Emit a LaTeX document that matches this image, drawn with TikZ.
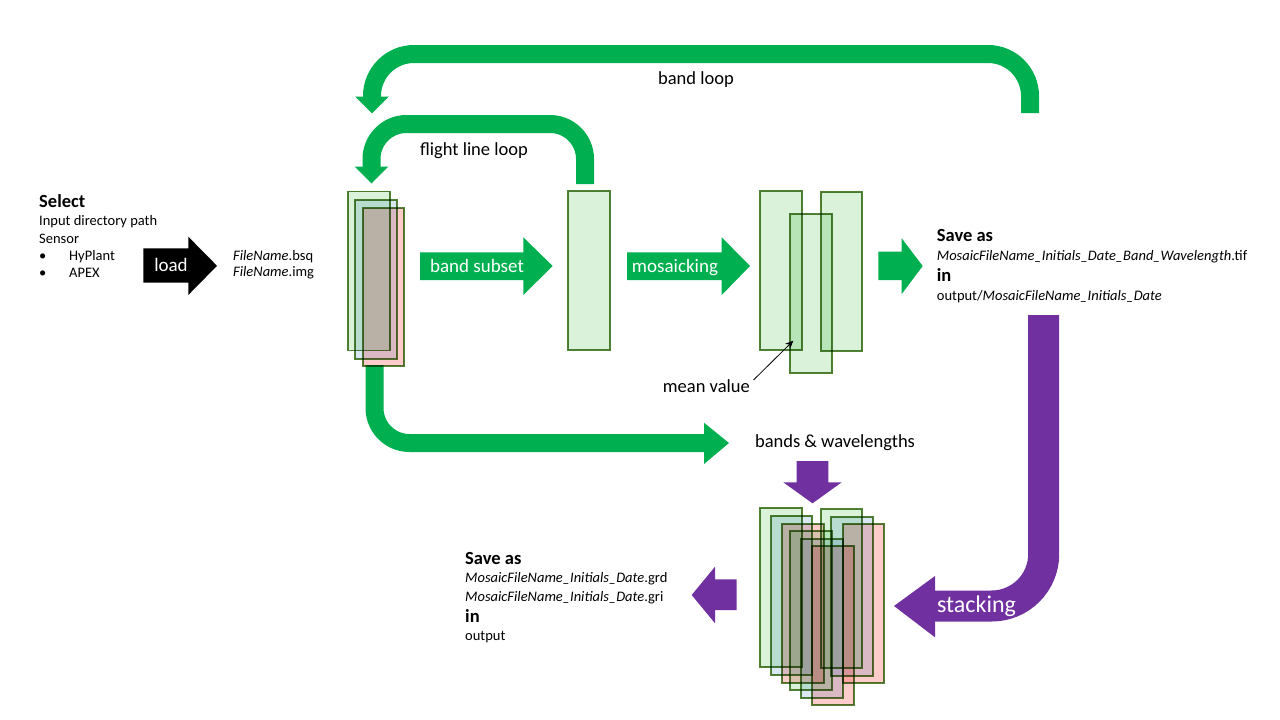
\documentclass[tikz,border=0pt]{standalone}
\usepackage{fontspec}
\setmainfont{Carlito}
\usetikzlibrary{arrows.meta}
\definecolor{ggreen}{RGB}{0,176,80}
\definecolor{gpurple}{RGB}{112,48,160}
\definecolor{gborder}{RGB}{84,130,53}
\definecolor{gfill}{RGB}{217,242,217}
\definecolor{bfill}{RGB}{218,232,245}
\definecolor{pfill}{RGB}{255,204,204}
\tikzset{
  txt/.style={inner sep=0pt, anchor=base west, yshift=-4.8pt, font=\fontsize{14.5}{16}\selectfont},
  big/.style={inner sep=0pt, anchor=base, yshift=-6.1pt, font=\fontsize{18.5}{20}\selectfont},
  boldtxt/.style={inner sep=0pt, anchor=base west, yshift=-6.1pt, font=\fontsize{18.5}{20}\selectfont\bfseries},
  wtxt/.style={inner sep=0pt, anchor=base, yshift=-6.3pt, text=white, font=\fontsize{19}{21}\selectfont},
  brect/.style={draw=gborder, line width=1.3pt, inner sep=0pt, anchor=north west, minimum width=42pt, minimum height=159pt},
  gbox/.style={brect, fill=gfill},
  bbox/.style={brect, fill=bfill},
  pbox/.style={brect, fill=pfill},
  gloop/.style={draw=ggreen, line width=18pt, rounded corners=35pt},
}
\begin{document}
\begin{tikzpicture}[x=1pt,y=-1pt]
\useasboundingbox (0,0) rectangle (1280,720);

% ---------- left text ----------
\node[boldtxt] (sel) at (39,201) {Select};
\node[txt] (idp) at (39,221) {Input directory path};
\node[txt] (sen) at (39,239) {Sensor};
\node[txt] (bu1) at (39,256) {\textbullet};
\node[txt] (hyp) at (69,256) {HyPlant};
\node[txt] (bu2) at (39,273) {\textbullet};
\node[txt] (apx) at (69,273) {APEX};

% ---------- load arrow ----------
\fill[black] (143.3,248.3) -- (188.3,248.3) -- (188.3,236.7) -- (217,265.8) -- (188.3,295) -- (188.3,282.5) -- (143.3,282.5) -- cycle;
\node[wtxt] (load) at (171,265.5) {load};

\node[txt] (fn1) at (233,256) {\textit{FileName}.bsq};
\node[txt] (fn2) at (233,272) {\textit{FileName}.img};

% ---------- loops ----------
\coordinate (blS) at (1030,113);
\coordinate (blE) at (372,97);
\draw[gloop, rounded corners=42pt] (blS) -- (1030,54) -- (372,54) -- (blE);
\fill[ggreen] (355,96.5) -- (389,96.5) -- (372,113.3) -- cycle;
\node[big] (bandloop) at (696,78) {band loop};

\coordinate (flS) at (585,184);
\coordinate (flE) at (371.5,167);
\draw[gloop] (flS) -- (585,124) -- (371.5,124) -- (flE);
\fill[ggreen] (354.6,166.5) -- (388.4,166.5) -- (371.5,183.5) -- cycle;
\node[big] (flightloop) at (474,149) {flight line loop};

% ---------- bottom green arrow ----------
\coordinate (bgS) at (374.5,365);
\coordinate (bgE) at (704.5,443);
\draw[gloop] (bgS) -- (374.5,443) -- (bgE);
\fill[ggreen] (704,422.7) -- (729,443) -- (704,464) -- cycle;
\node[big] (bw) at (835,441) {bands \& wavelengths};

% ---------- band subset / mosaicking arrows ----------
\fill[ggreen] (420,252.3) -- (523.3,252.3) -- (523.3,237.3) -- (552.7,266) -- (523.3,295) -- (523.3,280) -- (420,280) -- cycle;
\node[wtxt] (bs) at (477,266) {band subset};
\fill[ggreen] (627,252.3) -- (721.7,252.3) -- (721.7,237.3) -- (750,266) -- (721.7,295) -- (721.7,280) -- (627,280) -- cycle;
\node[wtxt] (mos) at (675,266) {mosaicking};
\fill[ggreen] (878.3,251.7) -- (901.7,251.7) -- (901.7,238.3) -- (922.7,266) -- (901.7,294) -- (901.7,280) -- (878.3,280) -- cycle;

% ---------- rectangles ----------
\begin{scope}[blend mode=multiply]
\node[gbox] (l1) at (347.3,190.7) {};
\node[bbox] (l2) at (354.3,199.3) {};
\node[pbox, minimum width=41pt, minimum height=158pt] (l3) at (362.3,207.3) {};

\node[gbox] (s1) at (567.3,190.3) {};

\node[gbox] (m1) at (759.3,190.3) {};
\node[gbox] (m2) at (789.3,213.3) {};
\node[gbox, minimum width=41pt] (m3) at (820.3,191.3) {};

\node[gbox] (k1) at (759.3,507.3) {};
\node[bbox, minimum width=41pt] (k2) at (770.3,515.3) {};
\node[pbox] (k3) at (781.3,523.3) {};
\node[gbox] (k4) at (789.3,530.3) {};
\node[bbox] (k5) at (800.3,538.3) {};
\node[pbox] (k6) at (811.3,545.3) {};
\node[gbox, minimum width=41pt] (k7) at (820.3,508.3) {};
\node[bbox] (k8) at (830.3,516.3) {};
\node[pbox, minimum width=41pt] (k9) at (842.3,523.3) {};
\end{scope}

% ---------- mean value ----------
\node[big, anchor=base west] (mean) at (662.7,386) {mean value};
\coordinate (mvS) at (753.5,380);
\coordinate (mvE) at (793.3,340.7);
\draw[line width=0.8pt, -{Stealth[length=8pt,width=7pt]}] (mvS) -- (mvE);

% ---------- save as (right) ----------
\node[boldtxt] (sa1) at (936.7,235) {Save as};
\node[txt] (sa2) at (936.7,256) {\textit{MosaicFileName\_Initials\_Date\_Band\_Wavelength}.tif};
\node[boldtxt] (sa3) at (936.7,275.5) {in};
\node[txt] (sa4) at (936.7,296) {output/\textit{MosaicFileName\_Initials\_Date}};

% ---------- purple arrows ----------
\fill[gpurple] (796.7,461) -- (828.3,461) -- (828.3,482.3) -- (841.7,482.3) -- (812.5,503.3) -- (783.3,482.3) -- (796.7,482.3) -- cycle;

\coordinate (stS) at (1043.7,315);
\coordinate (stE) at (934.5,606);
\draw[draw=gpurple, line width=31pt, rounded corners=52pt] (stS) -- (1043.7,606) -- (stE);
\fill[gpurple] (935,576) -- (935,637.3) -- (894,606) -- cycle;
\node[wtxt, yshift=-1.6pt, font=\fontsize{24}{26}\selectfont] (stack) at (976.5,605) {stacking};

\fill[gpurple] (736.7,579.3) -- (715,579.3) -- (715,566.7) -- (691.7,595) -- (715,623.3) -- (715,610) -- (736.7,610) -- cycle;

% ---------- save as (bottom) ----------
\node[boldtxt] (sb1) at (465,558) {Save as};
\node[txt] (sb2) at (465,578) {\textit{MosaicFileName\_Initials\_Date}.grd};
\node[txt] (sb3) at (465,597) {\textit{MosaicFileName\_Initials\_Date}.gri};
\node[boldtxt] (sb4) at (465,616) {in};
\node[txt] (sb5) at (465,636) {output};
\end{tikzpicture}
\end{document}
